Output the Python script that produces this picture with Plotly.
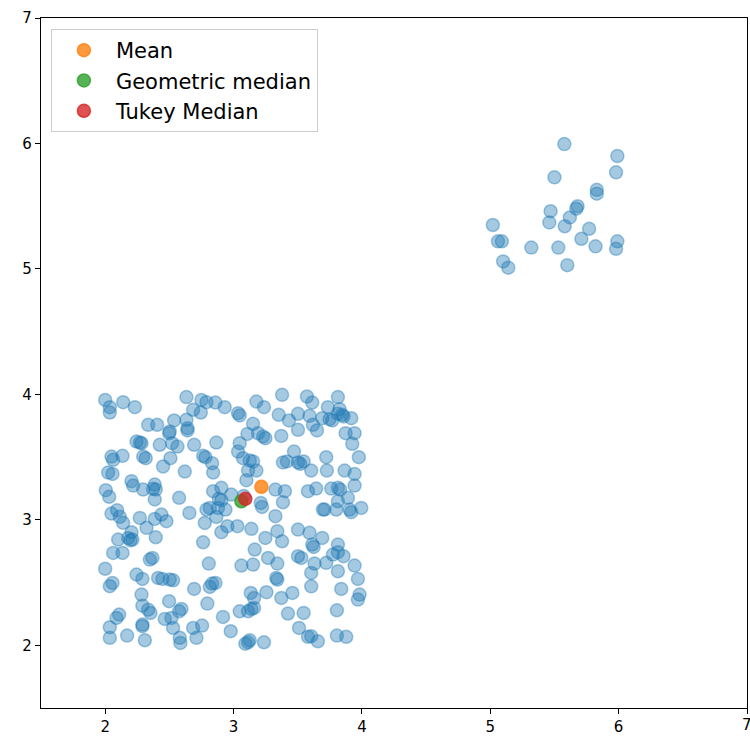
import plotly.graph_objects as go

# Lower cluster points (x, y)
low_x = [
2.00,2.036,2.036,2.140,2.231,2.633,2.335,2.405,2.537,2.633,2.503,2.498,2.641,2.641,2.244,2.270,2.283,2.425,2.521,2.563,
2.049,2.135,2.296,2.316,2.062,2.508,2.451,2.023,2.057,2.620,
2.750,2.789,2.859,2.931,2.685,2.745,3.035,3.048,3.178,3.237,3.378,3.352,3.152,3.108,3.191,3.230,3.248,3.372,2.693,2.866,
3.048,3.035,2.763,2.781,2.833,3.074,3.126,3.152,3.385,2.841,3.113,3.178,
3.572,3.613,3.813,3.735,3.826,3.502,3.592,3.691,3.748,3.769,3.813,3.847,3.857,3.917,3.432,3.502,3.618,3.650,3.873,3.943,
3.925,3.471,3.416,3.502,3.520,3.546,3.605,3.722,3.727,3.865,3.976,3.943,
2.205,2.218,2.005,2.031,2.296,2.386,2.373,2.394,2.386,2.576,2.656,2.049,2.093,2.114,2.140,2.270,2.322,2.386,2.438,2.477,
2.205,2.179,2.197,2.212,2.101,2.394,2.062,2.135,2.348,2.368,2.00,
3.080,3.100,2.905,2.841,2.983,2.885,2.905,2.789,2.815,2.879,2.937,2.866,3.212,3.222,3.326,3.400,3.385,3.326,2.776,2.905,
2.952,3.030,3.139,3.341,3.248,3.378,2.763,3.165,3.269,3.341,2.807,3.061,3.152,
3.580,3.644,3.761,3.813,3.831,3.943,3.813,3.891,3.696,3.709,3.800,3.904,3.917,3.995,3.502,3.592,3.691,3.613,3.624,3.813,
3.502,3.528,3.774,3.813,3.857,3.631,3.722,3.943,
2.244,2.290,2.412,2.446,2.503,2.529,2.057,2.036,2.283,2.290,2.335,2.353,2.498,2.576,2.594,2.109,2.088,2.464,2.516,2.529,
2.290,2.290,2.036,2.036,2.171,2.309,2.581,2.586,
3.333,3.341,2.693,2.833,2.859,2.815,2.796,3.134,3.160,3.256,3.372,2.918,3.048,3.113,3.139,3.160,2.685,2.755,2.711,2.978,
3.126,3.092,3.113,3.237,
3.605,3.813,3.969,3.458,3.605,3.839,3.982,3.969,3.424,3.546,3.805,3.510,3.580,3.605,3.657,3.805,3.878,
]
low_y = [
3.956,3.898,3.855,3.938,3.898,3.978,3.757,3.757,3.792,3.797,3.704,3.690,3.730,3.712,3.624,3.616,3.611,3.598,3.611,3.584,
3.504,3.510,3.504,3.491,3.478,3.491,3.425,3.377,3.366,3.385,
3.956,3.938,3.935,3.898,3.877,3.855,3.850,3.832,3.943,3.898,3.996,3.837,3.765,3.685,3.691,3.664,3.651,3.669,3.598,3.616,
3.611,3.544,3.510,3.499,3.451,3.491,3.473,3.465,3.457,3.377,3.393,3.393,
3.983,3.935,3.978,3.898,3.882,3.845,3.829,3.810,3.802,3.792,3.845,3.837,3.824,3.810,3.792,3.717,3.757,3.712,3.691,3.691,
3.606,3.544,3.465,3.457,3.446,3.465,3.393,3.499,3.393,3.393,3.499,3.366,
3.308,3.273,3.236,3.183,3.241,3.281,3.247,3.241,3.162,3.175,3.055,3.050,3.077,3.024,2.976,3.015,2.936,3.007,3.042,2.989,
2.901,2.856,2.837,2.843,2.843,2.861,2.736,2.736,2.683,2.696,2.610,
3.190,3.316,3.255,3.228,3.201,3.167,3.156,3.082,3.095,3.095,3.082,3.023,3.135,3.103,3.241,3.228,3.140,3.029,2.975,2.901,
2.949,2.949,2.928,2.909,2.856,2.829,2.821,2.763,2.696,2.651,2.651,2.635,2.643,
3.228,3.249,3.249,3.255,3.241,3.273,3.148,3.175,3.082,3.082,3.082,3.082,3.061,3.095,2.922,2.896,2.856,2.803,2.784,2.803,
2.710,2.696,2.723,2.742,2.710,2.651,2.657,2.635,
2.564,2.529,2.537,2.529,2.524,2.518,2.497,2.471,2.404,2.316,2.284,2.258,2.351,2.271,2.290,2.245,2.218,2.210,2.218,2.138,
2.165,2.152,2.144,2.059,2.077,2.040,2.059,2.019,
2.537,2.524,2.449,2.492,2.497,2.465,2.332,2.417,2.377,2.423,2.377,2.226,2.271,2.271,2.290,2.298,2.138,2.157,2.059,2.112,
2.040,2.013,2.024,2.024,
2.577,2.590,2.529,2.417,2.470,2.449,2.404,2.364,2.253,2.258,2.279,2.138,2.067,2.072,2.032,2.077,2.067,
]

# Upper cluster points
up_x = [5.577,5.99,5.98,5.50,5.83,5.83,5.68,5.67,5.47,5.62,5.46,5.58,5.02,5.77,5.06,5.09,5.71,5.99,5.98,5.82,5.32,5.53,5.10,5.14,5.60]
up_y = [5.995,5.90,5.77,5.73,5.63,5.60,5.50,5.48,5.46,5.41,5.37,5.34,5.35,5.32,5.22,5.22,5.24,5.22,5.16,5.18,5.17,5.17,5.06,5.01,5.03]

mean_pt = (3.217, 3.263)
geo_pt = (3.061, 3.148)
tukey_pt = (3.092, 3.167)

tick_vals = [2, 3, 4, 5, 6, 7]

fig = go.Figure()
blue = "rgba(31,119,180,0.4)"
fig.add_trace(go.Scatter(
    x=low_x + up_x, y=low_y + up_y, mode="markers", showlegend=False,
    marker=dict(size=13, color=blue, line=dict(color=blue, width=1.5)),
))
for name, pt, col in [("Mean", mean_pt, "rgba(255,127,14,0.8)"),
                      ("Geometric median", geo_pt, "rgba(44,160,44,0.8)"),
                      ("Tukey Median", tukey_pt, "rgba(214,39,40,0.8)")]:
    fig.add_trace(go.Scatter(
        x=[pt[0]], y=[pt[1]], mode="markers", name=name,
        marker=dict(size=13, color=col, line=dict(color=col, width=1.5)),
    ))

tick_font = dict(family="DejaVu Sans", size=15, color="black")
axis_common = dict(
    range=[1.5, 7], tickvals=tick_vals, ticktext=[str(v) for v in tick_vals],
    showgrid=False, zeroline=False, showline=True, linecolor="black", linewidth=1.2,
    mirror=True, ticks="outside", ticklen=5, tickcolor="black",
    tickfont=tick_font,
)
fig.update_layout(
    width=750, height=740,
    margin=dict(l=41, r=3, t=18, b=32),
    plot_bgcolor="white", paper_bgcolor="white",
    xaxis=axis_common, yaxis=axis_common,
    legend=dict(x=0.014, y=0.984, xanchor="left", yanchor="top",
                bordercolor="#cccccc", borderwidth=1, bgcolor="rgba(255,255,255,0.8)",
                font=dict(family="DejaVu Sans", size=21, color="black"),
                itemwidth=54),
    showlegend=True,
)
# x tick label "7" sits at the right edge and is cut in the reference
fig.add_annotation(x=7, xref="x", y=0, yref="paper", yanchor="top", yshift=-6,
                   text="7", showarrow=False, font=tick_font)
fig.write_html("out.html")
